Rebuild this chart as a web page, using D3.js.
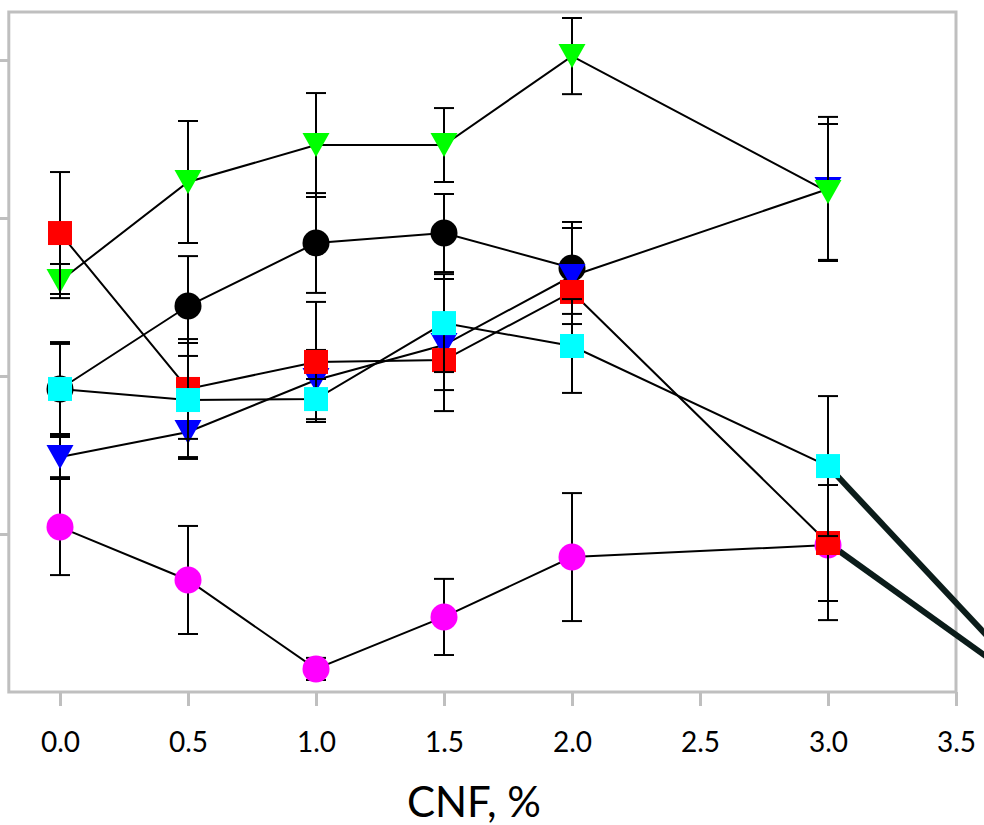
<!DOCTYPE html>
<html>
<head>
<meta charset="utf-8">
<script src="https://cdn.jsdelivr.net/npm/d3@7"></script>
<style>
  html, body { margin: 0; padding: 0; background: #fff; }
  svg { display: block; }
</style>
</head>
<body>
<svg id="chart" width="984" height="825"></svg>
<script>
// ---- data ----
const cnf = [0.0, 0.5, 1.0, 1.5, 2.0, 3.0];
const xTicks = [0.0, 0.5, 1.0, 1.5, 2.0, 2.5, 3.0, 3.5];
const yTicks = [0, 10, 20, 30, 40];

const blackVals = [19.18, 24.43, 28.42, 29.05, 26.84];
const blackErr  = [2.85, 3.16, 3.16, 2.47, 2.91];

const magentaVals = [10.44, 7.09, 1.46, 4.75, 8.54, 9.30];
const magentaErr  = [3.04, 3.42, 0.70, 2.41, 4.05, 4.75];

const blueVals = [14.87, 16.46, 19.75, 21.96, 26.33, 31.84];
const blueErr  = [1.27, 1.71, 1.90, 4.18, 3.04, 4.56];

const greenVals = [26.01, 32.28, 34.62, 34.62, 40.25, 31.65];
const greenErr  = [1.08, 3.86, 3.29, 2.34, 2.41, 4.30];

const redVals = [29.05, 19.18, 20.89, 21.01, 25.32, 9.43];
const redErr  = [3.86, 3.16, 3.80, 1.90, 0.63, 3.67];

const cyanVals = [19.18, 18.48, 18.54, 23.35, 21.90, 14.30];
const cyanErr  = [2.97, 3.61, 1.27, 3.10, 2.97, 4.43];

// leader lines (callouts pointing to a label outside the cropped view)
const leaderFrom = [[3.0, 14.30], [3.0, 9.43]];
const leaderTo = [3.855, -0.5];

// ---- layout ----
const svg = d3.select("#chart");
const x = d3.scaleLinear().domain([-0.2, 3.5]).range([8.8, 956]);
const y = d3.scaleLinear().domain([0, 43.04]).range([692, 12]);
const gridColor = "#bfbfbf";
const font = "Lato, 'Open Sans', sans-serif";

const series = [
  { vals: blackVals,   err: blackErr,   color: "#000000", shape: "circle" },
  { vals: magentaVals, err: magentaErr, color: "#ff00ff", shape: "circle" },
  { vals: blueVals,    err: blueErr,    color: "#0000ff", shape: "triangle" },
  { vals: greenVals,   err: greenErr,   color: "#00ff00", shape: "triangle" },
  { vals: redVals,     err: redErr,     color: "#ff0000", shape: "square" },
  { vals: cyanVals,    err: cyanErr,    color: "#00ffff", shape: "square" }
];

// frame
const [x0, x1] = x.range();
const [yb, yt] = y.range();
svg.append("rect")
  .attr("x", x0).attr("y", yt).attr("width", x1 - x0).attr("height", yb - yt)
  .attr("fill", "none").attr("stroke", gridColor).attr("stroke-width", 3);

// x axis
const xAxis = d3.axisBottom(x).tickValues(xTicks).tickFormat(d3.format(".1f"))
  .tickSize(14).tickSizeOuter(0).tickPadding(26);
const gx = svg.append("g").attr("transform", `translate(0,${yb})`).call(xAxis);
gx.select(".domain").remove();
gx.selectAll(".tick line").attr("stroke", gridColor).attr("stroke-width", 3);
gx.selectAll(".tick text").attr("fill", "#000").style("font-family", font).style("font-size", "28px");

// y axis (labels cropped off in the original)
const yAxis = d3.axisLeft(y).tickValues(yTicks.filter(v => v > 0)).tickFormat("")
  .tickSize(10).tickSizeOuter(0);
const gy = svg.append("g").attr("transform", `translate(${x0},0)`).call(yAxis);
gy.select(".domain").remove();
gy.selectAll(".tick line").attr("stroke", gridColor).attr("stroke-width", 3);

// x axis title
svg.append("text")
  .attr("x", 474).attr("y", 817)
  .attr("text-anchor", "middle")
  .style("font-family", font).style("font-size", "42px").attr("fill", "#000")
  .text("CNF, %");

// leader lines
const leaderG = svg.append("g");
leaderFrom.forEach(p => {
  leaderG.append("line")
    .attr("x1", x(p[0])).attr("y1", y(p[1]))
    .attr("x2", x(leaderTo[0])).attr("y2", y(leaderTo[1]))
    .attr("stroke", "#0b1c1a").attr("stroke-width", 6);
});

// series
const line = d3.line().x(d => x(d.x)).y(d => y(d.y));
const capW = 10;
series.forEach(s => {
  const pts = s.vals.map((v, i) => ({ x: cnf[i], y: v, e: s.err[i] }));
  const g = svg.append("g");
  g.append("path").datum(pts).attr("d", line)
    .attr("fill", "none").attr("stroke", "#000").attr("stroke-width", 2);
  const eb = g.append("g");
  pts.forEach(p => {
    const cx = x(p.x), ylo = y(p.y - p.e), yhi = y(p.y + p.e);
    eb.append("line").attr("x1", cx).attr("x2", cx).attr("y1", ylo).attr("y2", yhi)
      .attr("stroke", "#000").attr("stroke-width", 2);
    [ylo, yhi].forEach(yy => eb.append("line")
      .attr("x1", cx - capW).attr("x2", cx + capW).attr("y1", yy).attr("y2", yy)
      .attr("stroke", "#000").attr("stroke-width", 2));
  });
  const mg = g.append("g").attr("fill", s.color);
  pts.forEach(p => {
    const cx = x(p.x), cy = y(p.y);
    if (s.shape === "circle") {
      mg.append("circle").attr("cx", cx).attr("cy", cy).attr("r", 13.5);
    } else if (s.shape === "square") {
      mg.append("rect").attr("x", cx - 12).attr("y", cy - 12).attr("width", 24).attr("height", 24);
    } else {
      mg.append("path").attr("d", `M${cx - 13.5},${cy - 12}L${cx + 13.5},${cy - 12}L${cx},${cy + 12}Z`);
    }
  });
});
</script>
</body>
</html>
